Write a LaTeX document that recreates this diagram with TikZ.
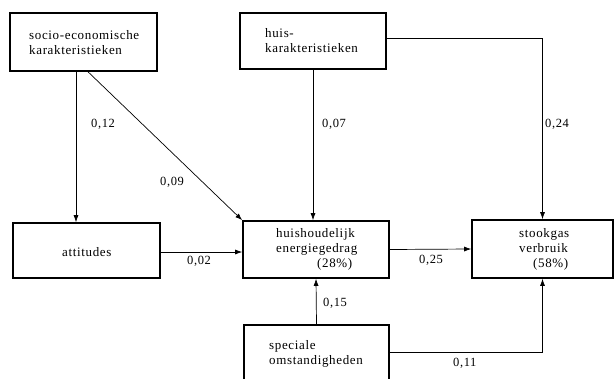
\documentclass[tikz,border=0pt]{standalone}
\usepackage{fontspec}
\setmainfont{Liberation Serif}[LetterSpace=5]
\usetikzlibrary{arrows.meta}
\begin{document}
\begin{tikzpicture}[x=1pt,y=-1pt,
  box/.style={draw, line width=1.6pt, rectangle, inner sep=0pt},
  txt/.style={font=\fontsize{13}{15}\selectfont, align=left, inner sep=0pt, anchor=west},
  num/.style={font=\fontsize{12.5}{14}\selectfont, inner sep=0pt, anchor=west},
  arr/.style={draw, line width=0.7pt, -{Latex[length=7pt,width=5pt]}}]
\useasboundingbox (0,0) rectangle (615,378);
% boxes
\node[box, minimum width=147, minimum height=58] (se) at (83.5,42) {};
\node[box, minimum width=146, minimum height=56] (hk) at (313,41) {};
\node[box, minimum width=147, minimum height=55] (at) at (86.5,250.5) {};
\node[box, minimum width=146, minimum height=57] (hh) at (316,249.5) {};
\node[box, minimum width=141, minimum height=58] (sg) at (542.5,249) {};
\node[box, minimum width=145, minimum height=70] (sp) at (316.5,360) {};
% texts
\node[txt] (set) at (29,42.5) {socio-economische\\karakteristieken};
\node[txt] (hkt) at (265,40.5) {huis-\\karakteristieken};
\node[txt] (att) at (62,252) {attitudes};
\node[txt] (hht) at (276,249) {huishoudelijk\\energiegedrag\\\hspace*{41pt}(28\%)};
\node[txt] (sgt) at (519,249) {stookgas\\verbruik\\\hspace*{14pt}(58\%)};
\node[txt] (spt) at (269,353.5) {speciale\\omstandigheden};
% helper coordinates
\coordinate (c76) at (76,0);
\coordinate (c88) at (88,0);
\coordinate (c313) at (313,0);
\coordinate (y38) at (0,38);
\coordinate (y252) at (0,252);
\coordinate (y352) at (0,352);
% connectors
\draw[arr] (se.south -| c76) -- (at.north -| c76);
\draw[arr] (se.south -| c88) -- (hh.north west);
\draw[arr] (hk.south -| c313) -- (hh.north -| c313);
\draw[arr] (hk.east |- y38) -| (sg.north);
\draw[arr] (at.east |- y252) -- (hh.west |- y252);
\draw[arr] (hh.east) -- (sg.west);
\draw[arr] (sp.north) -- (hh.south);
\draw[arr] (sp.east |- y352) -| (sg.south);
% labels
\node[num] (l12) at (91,124) {0,12};
\node[num] (l09) at (160,182) {0,09};
\node[num] (l07) at (322,124) {0,07};
\node[num] (l24) at (545,124) {0,24};
\node[num] (l02) at (187,261) {0,02};
\node[num] (l25) at (419,260) {0,25};
\node[num] (l15) at (323,303) {0,15};
\node[num] (l11) at (453,363) {0,11};
\end{tikzpicture}
\end{document}
